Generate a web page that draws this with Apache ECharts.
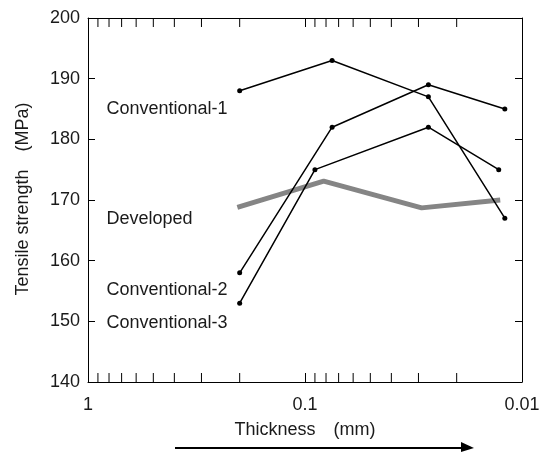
<!DOCTYPE html>
<html>
<head>
<meta charset="utf-8">
<title>Tensile strength</title>
<script src="https://cdn.jsdelivr.net/npm/echarts@6/dist/echarts.min.js"></script>
<style>
  html, body { margin: 0; padding: 0; background: #fff; }
  #chart { width: 545px; height: 452px; }
</style>
</head>
<body>
<div id="chart"></div>
<script>
  // thickness (mm) of each point
  var conv1X = [0.2, 0.075, 0.027, 0.012];
  var conv2X = [0.2, 0.075, 0.027, 0.012];
  var conv3X = [0.2, 0.09, 0.027, 0.0128];
  var devX = [0.205, 0.082, 0.029, 0.0126];

  // tensile strength (MPa)
  var conv1Y = [188, 193, 187, 167];
  var conv2Y = [158, 182, 189, 185];
  var conv3Y = [153, 175, 182, 175];
  var devY = [168.8, 173.1, 168.7, 170.0];

  // small ticks on the log axis
  var minorTicks = [0.9, 0.8, 0.7, 0.6, 0.5, 0.4, 0.3, 0.2,
                    0.09, 0.08, 0.07, 0.06, 0.05, 0.04, 0.03, 0.02];

  // labels in the plot: [text, thickness, strength]
  var labelNames = ['Conventional-1', 'Developed', 'Conventional-2', 'Conventional-3'];
  var labelX = [0.822, 0.822, 0.822, 0.822];
  var labelY = [185, 166.9, 155.2, 149.8];

  var yTitle = 'Tensile strength\u3000(MPa)';
  var xTitle = 'Thickness\u3000(mm)';

  var font = 'Liberation Sans, Arial, sans-serif';

  function pairs(xs, ys) {
    var out = [];
    for (var i = 0; i < xs.length; i++) out.push([xs[i], ys[i]]);
    return out;
  }

  function blackLine(name, xs, ys) {
    return {
      name: name,
      type: 'line',
      data: pairs(xs, ys),
      symbol: 'circle',
      symbolSize: 5,
      itemStyle: { color: '#000' },
      lineStyle: { color: '#000', width: 1.5 },
      silent: true,
      z: 3
    };
  }

  var xAxisBase = {
    type: 'log',
    logBase: 10,
    min: 0.01,
    max: 1,
    inverse: true,
    axisLine: { lineStyle: { color: '#000', width: 1 } },
    axisTick: { show: true, inside: true, length: 9, lineStyle: { color: '#000' } },
    splitLine: { show: false }
  };
  var yAxisBase = {
    type: 'value',
    min: 140,
    max: 200,
    interval: 10,
    axisLine: { show: true, lineStyle: { color: '#000', width: 1 } },
    axisTick: { show: true, inside: true, length: 7, lineStyle: { color: '#000' } },
    splitLine: { show: false }
  };

  var chart = echarts.init(document.getElementById('chart'));

  var option = {
    animation: false,
    backgroundColor: '#fff',
    grid: { left: 88, right: 23, top: 18, bottom: 70 },
    xAxis: [
      Object.assign({}, xAxisBase, {
        position: 'bottom',
        axisLabel: { color: '#1a1a1a', fontSize: 18, fontFamily: font, margin: 14 }
      }),
      Object.assign({}, xAxisBase, {
        position: 'top',
        axisLabel: { show: false }
      })
    ],
    yAxis: [
      Object.assign({}, yAxisBase, {
        position: 'left',
        axisLabel: { color: '#1a1a1a', fontSize: 18, fontFamily: font, margin: 8 }
      }),
      Object.assign({}, yAxisBase, {
        position: 'right',
        axisLabel: { show: false }
      })
    ],
    series: [
      {
        // gray thick line for the developed material
        name: 'Developed',
        type: 'line',
        data: pairs(devX, devY),
        symbol: 'none',
        lineStyle: { color: '#858585', width: 5 },
        silent: true,
        z: 2
      },
      blackLine('Conventional-1', conv1X, conv1Y),
      blackLine('Conventional-2', conv2X, conv2Y),
      blackLine('Conventional-3', conv3X, conv3Y),
      {
        // minor ticks of the log axis, top and bottom
        type: 'custom',
        data: minorTicks.map(function (v) { return [v, 140]; }),
        silent: true,
        renderItem: function (params, api) {
          var b = api.coord([api.value(0), 140]);
          var t = api.coord([api.value(0), 200]);
          return {
            type: 'group',
            children: [
              { type: 'line', shape: { x1: b[0], y1: b[1], x2: b[0], y2: b[1] - 9 },
                style: { stroke: '#000', lineWidth: 1 } },
              { type: 'line', shape: { x1: t[0], y1: t[1], x2: t[0], y2: t[1] + 9 },
                style: { stroke: '#000', lineWidth: 1 } }
            ]
          };
        }
      }
    ]
  };
  chart.setOption(option);

  // texts and the arrow under the axis
  var graphics = [];
  for (var i = 0; i < labelNames.length; i++) {
    var p = chart.convertToPixel({ xAxisIndex: 0, yAxisIndex: 0 }, [labelX[i], labelY[i]]);
    graphics.push({
      type: 'text', x: p[0], y: p[1],
      style: { text: labelNames[i], fill: '#1a1a1a', font: '18px ' + font,
               textAlign: 'left', textVerticalAlign: 'middle' }
    });
  }
  graphics.push({
    type: 'text', x: 23.5, y: 199, rotation: Math.PI / 2,
    style: { text: yTitle, fill: '#1a1a1a', font: '18px ' + font,
             textAlign: 'center', textVerticalAlign: 'middle' }
  });
  graphics.push({
    type: 'text', x: 305, y: 430,
    style: { text: xTitle, fill: '#1a1a1a', font: '18px ' + font,
             textAlign: 'center', textVerticalAlign: 'middle' }
  });
  graphics.push({
    type: 'line', shape: { x1: 175, y1: 448, x2: 464, y2: 448 },
    style: { stroke: '#000', lineWidth: 2 }
  });
  graphics.push({
    type: 'polygon', shape: { points: [[461, 442], [474, 448], [461, 452]] },
    style: { fill: '#000' }
  });
  chart.setOption({ graphic: graphics });
</script>
</body>
</html>
